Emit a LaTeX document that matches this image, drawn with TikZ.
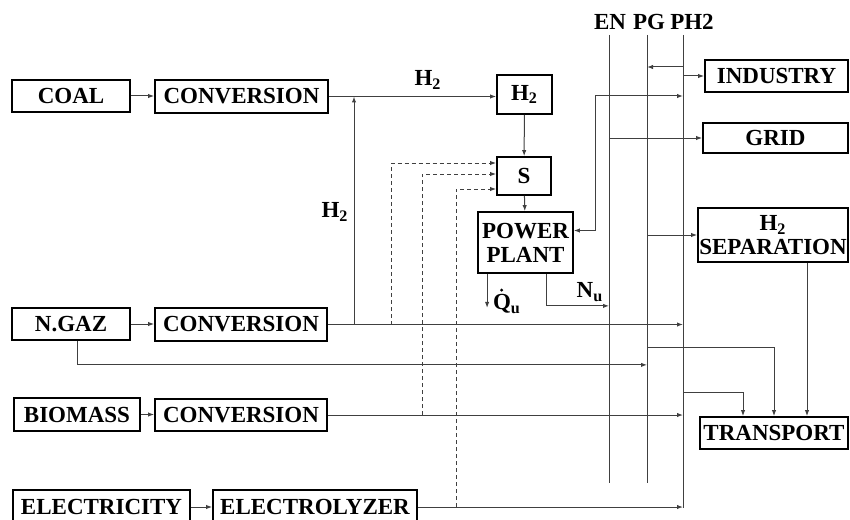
\documentclass[tikz,border=0pt]{standalone}
\usepackage{fontspec}
\setmainfont{Liberation Serif}
\usetikzlibrary{arrows.meta,calc}

\begin{document}
\begin{tikzpicture}[x=0.5pt,y=-0.5pt,
    unit/.style={draw, line width=0.9pt, inner sep=0pt, align=center,
      font=\fontsize{11.5}{12}\selectfont\bfseries},
    lbl/.style={inner sep=0pt, font=\fontsize{11.5}{12}\selectfont\bfseries},
    link/.style={draw=black!75, line width=0.5pt},
    flow/.style={link, -{Latex[length=3pt,width=2.2pt]}},
    twoway/.style={link, {Latex[length=3pt,width=2.2pt]}-{Latex[length=3pt,width=2.2pt]}},
    feed/.style={flow, dash pattern=on 2pt off 1.5pt}]

    \useasboundingbox (0,0) rectangle (850,519);

    % Sources and conversion units
    \node[unit, minimum width=59pt, minimum height=16pt] (coal) at (71,96) {COAL};
    \node[unit, minimum width=86.5pt, minimum height=16.5pt] (conv1) at (241.5,96.5) {CONVERSION};
    \node[unit, minimum width=59pt, minimum height=16pt] (ngaz) at (71,324) {N.GAZ};
    \node[unit, minimum width=86pt, minimum height=16.5pt] (conv2) at (241,324.5) {CONVERSION};
    \node[unit, minimum width=63pt, minimum height=16.5pt] (bio) at (77,414.5) {BIOMASS};
    \node[unit, minimum width=86pt, minimum height=16pt] (conv3) at (241,415) {CONVERSION};
    \node[unit, minimum width=88.5pt, minimum height=17pt] (elec) at (101.5,507) {ELECTRICITY};
    \node[unit, minimum width=102pt, minimum height=17pt] (elyz) at (315,507) {ELECTROLYZER};

    % Storage and power plant
    \node[unit, minimum width=27.5pt, minimum height=19.5pt] (h2box) at (524.5,94.5) {H\textsubscript{2}};
    \node[unit, minimum width=27pt, minimum height=19pt] (sbox) at (524,176) {S};
    \node[unit, minimum width=47.5pt, minimum height=30.5pt] (plant) at (525.5,242.5) {POWER\\PLANT};

    % Consumers
    \node[unit, minimum width=71.5pt, minimum height=16pt] (industry) at (776.5,76) {INDUSTRY};
    \node[unit, minimum width=72.5pt, minimum height=15pt] (grid) at (775.5,138) {GRID};
    \node[unit, minimum width=75pt, minimum height=27pt] (sep) at (773,235) {H\textsubscript{2}\\SEPARATION};
    \node[unit, minimum width=74pt, minimum height=16pt] (transport) at (774,433) {TRANSPORT};

    % Buses
    \coordinate (en) at (609,35);
    \coordinate (pg) at (647,35);
    \coordinate (ph) at (683,35);
    \coordinate (enend) at (609,483);
    \coordinate (pgend) at (647,483);
    \coordinate (phend) at (683,508);
    \draw[link] (en) -- (enend);
    \draw[link] (pg) -- (pgend);
    \draw[link] (ph) -- (phend);
    \node[lbl] (enlbl) at (610,22) {EN};
    \node[lbl] (pglbl) at (649,22) {PG};
    \node[lbl] (phlbl) at (692,22) {PH2};

    % Source lines
    \draw[flow] (coal.east) -- (coal.east -| conv1.west);
    \draw[flow] (ngaz.east) -- (ngaz.east -| conv2.west);
    \draw[flow] (bio.east) -- (bio.east -| conv3.west);
    \draw[flow] (elec.east) -- (elec.east -| elyz.west);
    \draw[flow] (conv1.east) -- (conv1.east -| h2box.west);
    \node[lbl] (h2top) at (428,80) {H\textsubscript{2}};
    \draw[flow] (conv2.east) -- (conv2.east -| ph);
    \draw[flow] (conv3.east) -- (conv3.east -| ph);
    \draw[flow] (elyz.east) -- (elyz.east -| ph);
    \draw[flow] ($(ngaz.south)+(6,0)$) -- ++(0,24) coordinate (gz) -- (gz -| pg);

    % Hydrogen return
    \coordinate (tapH) at (354,324.5);
    \draw[flow] (tapH) -- (tapH |- conv1.east);
    \node[lbl] (h2side) at (335,212) {H\textsubscript{2}};

    % Feeds to storage
    \coordinate (tapA) at (391,324.5);
    \coordinate (tapB) at (422,415);
    \coordinate (tapC) at (456,507);
    \draw[feed] (tapA) |- ($(sbox.west)+(0,-13)$);
    \draw[feed] (tapB) |- ($(sbox.west)+(0,-2)$);
    \draw[feed] (tapC) |- ($(sbox.west)+(0,13)$);
    \draw[flow] (h2box) -- (sbox);
    \draw[flow] (sbox) -- (plant);

    % Plant outputs
    \draw[flow] ($(plant.south west)+(10,0)$) -- ++(0,34);
    \node[lbl] (qlbl) at (507,304) {Q\textsubscript{u}};
    \fill ($(qlbl.north west)+(9,-4)$) circle (0.8pt);
    \draw[flow] ($(plant.south east)+(-27,0)$) -- ++(0,32) coordinate (nu) -- (nu -| en);
    \node[lbl] (nlbl) at (590,292) {N\textsubscript{u}};
    \draw[twoway] ($(plant.east)+(0,-12)$) -- ++(22,0) |- ($(ph)+(0,61)$);

    % Consumer lines
    \draw[flow] ($(ph)+(0,32)$) -- ($(pg)+(0,32)$);
    \draw[flow] (industry.west -| ph) -- (industry.west);
    \draw[flow] (grid.west -| en) -- (grid.west);
    \draw[flow] (sep.west -| pg) -- (sep.west);
    \draw[flow] ($(pg)+(0,312)$) -| (transport.north);
    \draw[flow] ($(ph)+(0,357)$) -| ($(transport.north)+(-31,0)$);
    \draw[flow] ($(sep.south)+(34,0)$) coordinate (sp) -- (sp |- transport.north);
\end{tikzpicture}
\end{document}
